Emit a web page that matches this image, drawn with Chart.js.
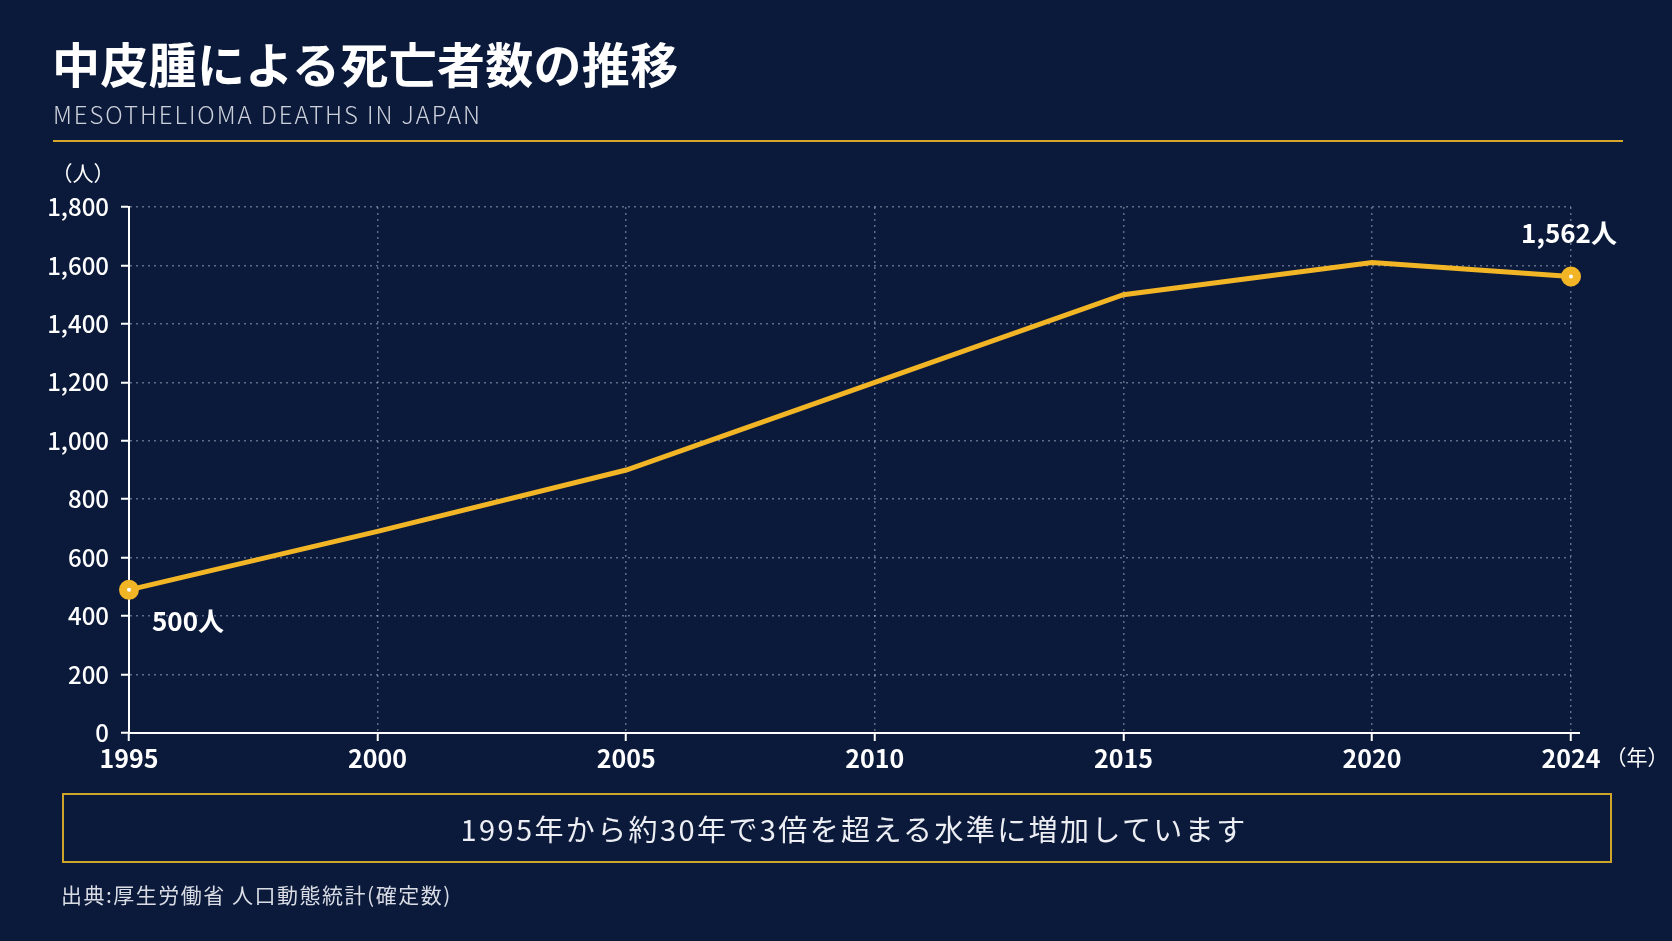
<!DOCTYPE html>
<html lang="ja">
<head>
<meta charset="utf-8">
<title>中皮腫による死亡者数の推移</title>
<script src="https://cdn.jsdelivr.net/npm/chart.js@4.4.1/dist/chart.umd.min.js"></script>
<style>
  html, body {
    margin: 0;
    padding: 0;
    width: 1672px;
    height: 941px;
    background: #0b1a3b;
    overflow: hidden;
    font-family: "Noto Sans CJK JP", "Noto Sans", sans-serif;
    color: #fff;
  }
  #wrap { position: relative; width: 1672px; height: 941px; }
  #chart { position: absolute; left: 0; top: 0; }
  .title {
    position: absolute; left: 52px; top: 30px;
    font-size: 48px; font-weight: 700; line-height: 64px;
    margin: 0; letter-spacing: 0.3px;
  }
  .subtitle {
    position: absolute; left: 53px; top: 99px;
    font-size: 24px; font-weight: 300; line-height: 30px;
    color: #ccd0da; letter-spacing: 1.9px;
  }
  .rule {
    position: absolute; left: 53px; top: 140px;
    width: 1570px; height: 2px; background: #d6a52c;
  }
  .note {
    position: absolute; left: 62px; top: 793px;
    width: 1512px; height: 66px; padding-left: 34px;
    border: 2px solid #cfa42a;
    display: flex; align-items: center; justify-content: center;
    font-size: 29px; letter-spacing: 2.4px; color: #eceef3;
  }
  .source {
    position: absolute; left: 61px; top: 879px;
    font-size: 21px; line-height: 30px; color: #d9dce4;
    letter-spacing: 1.5px;
  }
</style>
</head>
<body>
<div id="wrap">
  <canvas id="chart" width="1672" height="941"></canvas>
  <h1 class="title">中皮腫による死亡者数の推移</h1>
  <div class="subtitle">MESOTHELIOMA DEATHS IN JAPAN</div>
  <div class="rule"></div>
  <div class="note">1995年から約30年で3倍を超える水準に増加しています</div>
  <div class="source">出典:厚生労働省 人口動態統計(確定数)</div>
</div>
<script>
// 年ごとの死亡者数
let years = [1995, 2000, 2005, 2010, 2015, 2020, 2024];
let deaths = [490, 690, 900, 1200, 1500, 1610, 1562];

// 目盛り
let xTicks = [1995, 2000, 2005, 2010, 2015, 2020, 2024];
let yTicks = [0, 200, 400, 600, 800, 1000, 1200, 1400, 1600, 1800];

// 始点と終点のラベル
let callouts = ['500人', '', '', '', '', '', '1,562人'];

let gold = '#f2b526';
let gridColor = 'rgba(200, 210, 230, 0.45)';

// 点・注記・単位を描くプラグイン
let labelPlugin = {
    id: 'labels',
    afterDatasetsDraw(chart) {
        let ctx = chart.ctx;
        let pts = chart.getDatasetMeta(0).data;
        let area = chart.chartArea;
        ctx.save();
        ctx.fillStyle = '#ffffff';
        ctx.textBaseline = 'middle';
        ctx.font = '700 26px "Noto Sans CJK JP"';
        pts.forEach((p, i) => {
            if (!callouts[i]) return;
            if (i === 0) {
                ctx.textAlign = 'left';
                ctx.fillText(callouts[i], p.x + 23, p.y + 31);
            } else {
                ctx.textAlign = 'center';
                ctx.fillText(callouts[i], p.x - 2, p.y - 43);
            }
        });
        // 単位
        ctx.font = '400 21px "Noto Sans CJK JP"';
        ctx.textAlign = 'center';
        ctx.fillText('（人）', 83, 173);
        ctx.fillText('（年）', 1637, 757);
        // x軸の線を少し右へ延ばす
        ctx.strokeStyle = '#ffffff';
        ctx.lineWidth = 2;
        ctx.beginPath();
        ctx.moveTo(area.right - 1, area.bottom);
        ctx.lineTo(area.right + 9, area.bottom);
        ctx.stroke();
        ctx.restore();
    }
};

let config = {
    type: 'line',
    data: {
        datasets: [{
            label: '死亡者数',
            data: years.map((y, i) => ({ x: y, y: deaths[i] })),
            borderColor: gold,
            borderWidth: 5,
            tension: 0,
            clip: false,
            pointRadius: callouts.map(c => c ? 6 : 0),
            pointHoverRadius: 0,
            pointBackgroundColor: '#ffffff',
            pointBorderColor: gold,
            pointBorderWidth: 8
        }]
    },
    options: {
        responsive: false,
        animation: false,
        events: [],
        layout: { padding: { left: 0, right: 101, top: 207, bottom: 148 } },
        plugins: {
            legend: { display: false },
            tooltip: { enabled: false }
        },
        scales: {
            x: {
                type: 'linear',
                min: 1995,
                max: 2024,
                afterBuildTicks: (scale) => {
                    scale.ticks = xTicks.map(v => ({ value: v }));
                },
                afterFit: (scale) => { scale.height = 60; },
                ticks: {
                    color: '#ffffff',
                    font: { family: '"Noto Sans CJK JP"', size: 25, weight: '700' },
                    padding: 2,
                    maxRotation: 0,
                    autoSkip: false,
                    callback: (v) => String(v)
                },
                grid: {
                    color: gridColor,
                    lineWidth: 1.5,
                    tickColor: '#ffffff',
                    tickLength: 8,
                    tickWidth: 2
                },
                border: { color: '#ffffff', width: 2, dash: [2, 4] }
            },
            y: {
                min: 0,
                max: 1800,
                afterBuildTicks: (scale) => {
                    scale.ticks = yTicks.map(v => ({ value: v }));
                },
                afterFit: (scale) => { scale.width = 129; },
                ticks: {
                    color: '#ffffff',
                    font: { family: '"Noto Sans CJK JP"', size: 24, weight: '500' },
                    padding: 12,
                    callback: (v) => v.toLocaleString('en-US')
                },
                grid: {
                    color: (c) => c.tick && c.tick.value === 0 ? 'rgba(0,0,0,0)' : gridColor,
                    lineWidth: 1.5,
                    tickColor: '#ffffff',
                    tickLength: 8,
                    tickWidth: 2
                },
                border: { color: '#ffffff', width: 2, dash: [2, 4] }
            }
        }
    },
    plugins: [labelPlugin]
};

let ctx = document.getElementById('chart').getContext('2d');
new Chart(ctx, config);
</script>
</body>
</html>
